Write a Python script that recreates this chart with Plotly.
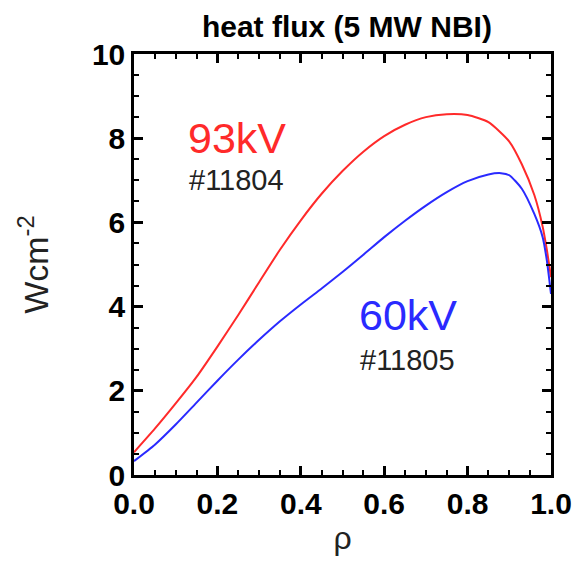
import plotly.graph_objects as go

rho_93 = [0.0, 0.05, 0.1, 0.15, 0.2, 0.25, 0.3, 0.35, 0.4, 0.45, 0.5, 0.55, 0.6, 0.65, 0.7, 0.75, 0.8, 0.85, 0.9, 0.93, 0.96, 0.98, 0.99, 1.0]
flux_93 = [0.54, 1.1, 1.7, 2.33, 3.05, 3.8, 4.58, 5.35, 6.05, 6.68, 7.22, 7.68, 8.05, 8.32, 8.5, 8.57, 8.55, 8.38, 7.92, 7.38, 6.65, 5.9, 5.35, 4.7]

rho_60 = [0.0, 0.05, 0.1, 0.15, 0.2, 0.25, 0.3, 0.35, 0.4, 0.45, 0.5, 0.55, 0.6, 0.65, 0.7, 0.75, 0.8, 0.85, 0.88, 0.9, 0.93, 0.96, 0.98, 0.99, 1.0]
flux_60 = [0.33, 0.72, 1.2, 1.72, 2.24, 2.74, 3.21, 3.65, 4.05, 4.43, 4.82, 5.23, 5.65, 6.04, 6.4, 6.72, 6.98, 7.14, 7.17, 7.12, 6.8, 6.2, 5.65, 5.1, 4.3]

x_ticks = [0.0, 0.2, 0.4, 0.6, 0.8, 1.0]
x_tick_labels = ["0.0", "0.2", "0.4", "0.6", "0.8", "1.0"]
y_ticks = [0, 2, 4, 6, 8, 10]
y_tick_labels = ["0", "2", "4", "6", "8", "10"]

fig = go.Figure()
fig.add_trace(go.Scatter(x=rho_93, y=flux_93, mode="lines",
                         line=dict(color="#ff2a2a", width=2, shape="spline", smoothing=0.6),
                         showlegend=False))
fig.add_trace(go.Scatter(x=rho_60, y=flux_60, mode="lines",
                         line=dict(color="#2a2aff", width=2, shape="spline", smoothing=0.6),
                         showlegend=False))

bold = "Liberation Sans, Arial, sans-serif"
reg = "Liberation Sans, Arial, sans-serif"

axis_common = dict(
    showline=True, linecolor="black", linewidth=2.5, mirror="allticks",
    ticks="inside", ticklen=9, tickwidth=2.5, tickcolor="black",
    showgrid=False, zeroline=False, ticklabeloverflow="allow",
    tickfont=dict(family=bold, size=30, color="black", weight="bold"),
)

fig.update_xaxes(range=[0, 1], tickvals=x_ticks, ticktext=x_tick_labels,
                 minor=dict(dtick=0.05, ticks="inside", ticklen=5, tickwidth=2, tickcolor="black"),
                 title=dict(text="ρ", font=dict(family=reg, size=32, color="#222"), standoff=8),
                 **axis_common)
fig.update_yaxes(range=[0, 10], tickvals=y_ticks, ticktext=y_tick_labels,
                 minor=dict(dtick=0.5, ticks="inside", ticklen=5, tickwidth=2, tickcolor="black"),
                 title=dict(text="Wcm<sup>-2</sup>", font=dict(family=reg, size=34, color="#222"), standoff=33),
                 **axis_common)

fig.add_annotation(x=0.246, y=8.0, xref="x", yref="y", text="93kV", showarrow=False,
                   font=dict(family=reg, size=43, color="#ff2a2a"))
fig.add_annotation(x=0.246, y=7.0, xref="x", yref="y", text="#11804", showarrow=False,
                   font=dict(family=reg, size=29, color="#222"))
fig.add_annotation(x=0.657, y=3.8, xref="x", yref="y", text="60kV", showarrow=False,
                   font=dict(family=reg, size=43, color="#2a2aff"))
fig.add_annotation(x=0.657, y=2.73, xref="x", yref="y", text="#11805", showarrow=False,
                   font=dict(family=reg, size=29, color="#222"))

fig.update_layout(
    width=584, height=562,
    margin=dict(l=134, r=21, t=54, b=83),
    paper_bgcolor="white", plot_bgcolor="white",
    title=dict(text="heat flux (5 MW NBI)", x=0.594, xanchor="center", y=0.952, yanchor="middle",
               font=dict(family=bold, size=30, color="black", weight="bold")),
)

fig.write_html("out.html")
